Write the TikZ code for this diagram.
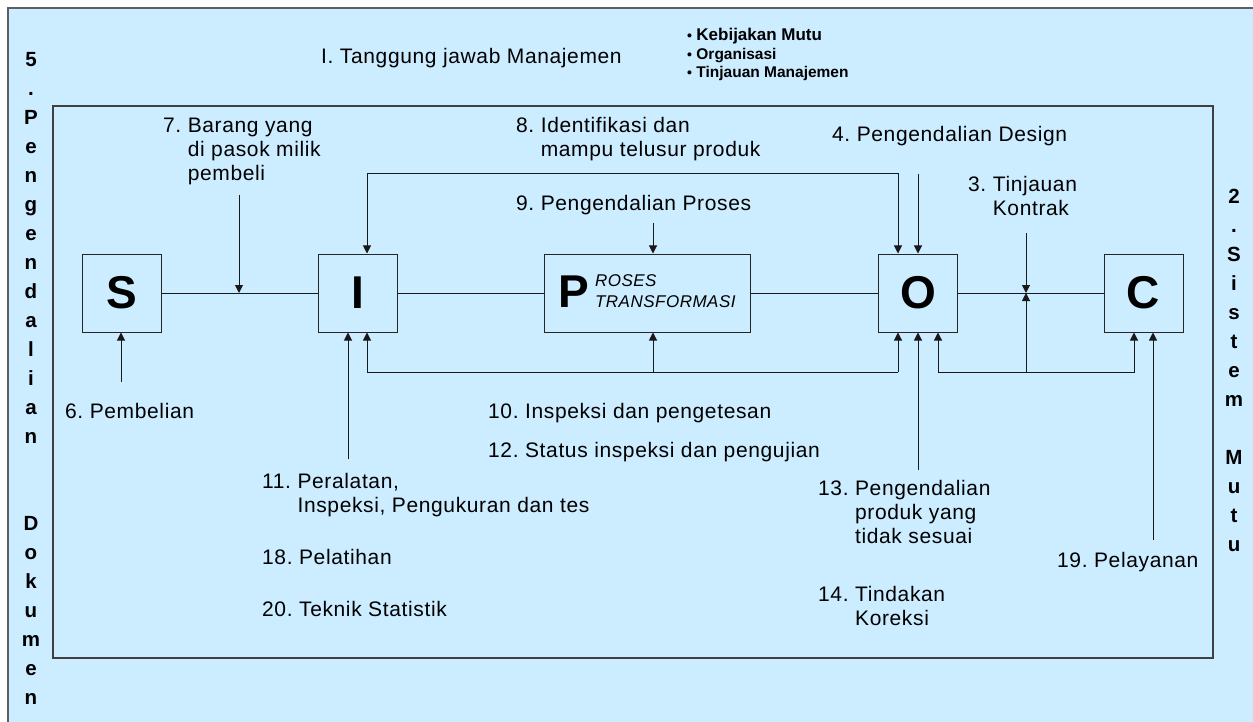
\documentclass[tikz,border=0pt]{standalone}
\usepackage{fontspec}
\setmainfont{Liberation Sans}[LetterSpace=3]
\newfontfamily\bulfont{Liberation Sans}
\usepackage{tikz}
\usetikzlibrary{arrows.meta}
\definecolor{bgblue}{RGB}{204,236,255}
\definecolor{framegray}{RGB}{95,95,95}
\newcommand{\hanglbl}[2]{#1\ \begin{tabular}[t]{@{}l@{}}#2\end{tabular}}
\newcommand{\smallbul}{{\fontsize{14}{14}\selectfont\textbullet}}
\frenchspacing

\begin{document}
\begin{tikzpicture}[x=1pt,y=-1pt,
		box/.style={draw=black!85,line width=1pt,minimum width=79pt,minimum height=78pt,inner sep=0pt,font=\fontsize{46}{46}\selectfont\bfseries},
		lbl/.style={anchor=base west,inner sep=0pt,font=\fontsize{21}{24}\selectfont},
		vlbl/.style={anchor=base,inner sep=0pt,font=\fontsize{20.5}{29}\selectfont\bfseries},
		bul/.style={anchor=base west,inner sep=0pt,font=\bulfont\fontsize{15.5}{18}\selectfont\bfseries},
		conn/.style={line width=1pt,draw=black!90},
		>={Triangle[length=8pt,width=8pt]}]
		\useasboundingbox (0,0) rectangle (1253,722);
		\fill[bgblue] (8,8) rectangle (1253,722);
		\draw[framegray,line width=2pt] (8,722) -- (8,8) -- (1253,8);
		\draw[black!75,line width=1.3pt] (53,106) rectangle (1213,658);
		%
		% boxes
		\node[box] (S) at (122,293) {S};
		\node[box] (I) at (357.5,293) {I};
		\node[box,minimum width=206pt] (P) at (647,293) {P\hspace{6pt}{\fontsize{17}{21}\selectfont\mdseries\itshape\begin{tabular}[b]{@{}l@{}}ROSES\\TRANSFORMASI\end{tabular}}};
		\node[box] (O) at (918,293) {O};
		\node[box] (C) at (1143.5,293) {C};
		%
		% labels
		\node[lbl] (tj) at (321,64) {I. Tanggung jawab Manajemen};
		\node[bul] (kb) at (687,41) {\smallbul\ \fontsize{17}{18}\selectfont Kebijakan Mutu};
		\node[bul] (org) at (687,60) {\smallbul\ Organisasi};
		\node[bul] (tm) at (687,78) {\smallbul\ Tinjauan Manajemen};
		\node[lbl] (l7) at (163,133) {\hanglbl{7.}{Barang yang\\di pasok milik\\pembeli}};
		\node[lbl] (l8) at (516,133) {\hanglbl{8.}{Identifikasi dan\\mampu telusur produk}};
		\node[lbl] (l4) at (832,142) {4. Pengendalian Design};
		\node[lbl] (l3) at (968,192) {\hanglbl{3.}{Tinjauan\\Kontrak}};
		\node[lbl] (l9) at (516,211) {9. Pengendalian Proses};
		\node[lbl] (l6) at (65,418) {6. Pembelian};
		\node[lbl] (l10) at (488,418) {10. Inspeksi dan pengetesan};
		\node[lbl] (l12) at (488,457) {12. Status inspeksi dan pengujian};
		\node[lbl] (l11) at (262,488) {\hanglbl{11.}{Peralatan,\\Inspeksi, Pengukuran dan tes}};
		\node[lbl] (l18) at (262,564) {18. Pelatihan};
		\node[lbl] (l20) at (262,616) {20. Teknik Statistik};
		\node[lbl] (l13) at (818,495) {\hanglbl{13.}{Pengendalian\\produk yang\\tidak sesuai}};
		\node[lbl] (l14) at (818,601) {\hanglbl{14.}{Tindakan\\Koreksi}};
		\node[lbl] (l19) at (1057,567) {19. Pelayanan};
		% side texts
		\node[vlbl] (dok) at (31,67) {\begin{tabular}[t]{@{}c@{}}5\\.\\P\\e\\n\\g\\e\\n\\d\\a\\l\\i\\a\\n\\ \\ \\D\\o\\k\\u\\m\\e\\n\end{tabular}};
		\node[vlbl] (smm) at (1234,204) {\begin{tabular}[t]{@{}c@{}}2\\.\\S\\i\\s\\t\\e\\m\\ \\M\\u\\t\\u\end{tabular}};
		%
		% arrow ends
		\coordinate (a7) at (239,195);
		\coordinate (m7) at (239,293);
		\coordinate (a6) at (121,382);
		\coordinate (a11) at (348,459);
		\coordinate (a13) at (918,470);
		\coordinate (a19) at (1153,540);
		\coordinate (a9) at (653,223);
		\coordinate (a4) at (918,174);
		\coordinate (a3) at (1026,233);
		\coordinate (m3) at (1026,293);
		\coordinate (t8I) at (367,174);
		\coordinate (t8O) at (898,174);
		\coordinate (b10I) at (367,372);
		\coordinate (b10P) at (653,372);
		\coordinate (b10O) at (898,372);
		\coordinate (b3O) at (938,372);
		\coordinate (b3K) at (1026,372);
		\coordinate (b3C) at (1134,372);
		%
		% main flow
		\draw[conn] (S) -- (I) -- (P) -- (O) -- (C);
		% arrows from above
		\draw[conn,->] (a7) -- (m7);
		\draw[conn,->] (a9) -- (a9 |- P.north);
		\draw[conn,->] (a4) -- (a4 |- O.north);
		\draw[conn,->] (a3) -- (m3);
		\draw[conn,<->] (t8I |- I.north) -- (t8I) -- (t8O) -- (t8O |- O.north);
		% arrows from below
		\draw[conn,->] (a6) -- (a6 |- S.south);
		\draw[conn,->] (a11) -- (a11 |- I.south);
		\draw[conn,->] (a13) -- (a13 |- O.south);
		\draw[conn,->] (a19) -- (a19 |- C.south);
		% feedback loops
		\draw[conn,->] (b10O) -- (b10I) -- (b10I |- I.south);
		\draw[conn,->] (b10P) -- (b10P |- P.south);
		\draw[conn,->] (b10O) -- (b10O |- O.south);
		\draw[conn,<->] (b3O |- O.south) -- (b3O) -- (b3C) -- (b3C |- C.south);
		\draw[conn,->] (b3K) -- (m3);
	\end{tikzpicture}
\end{document}
